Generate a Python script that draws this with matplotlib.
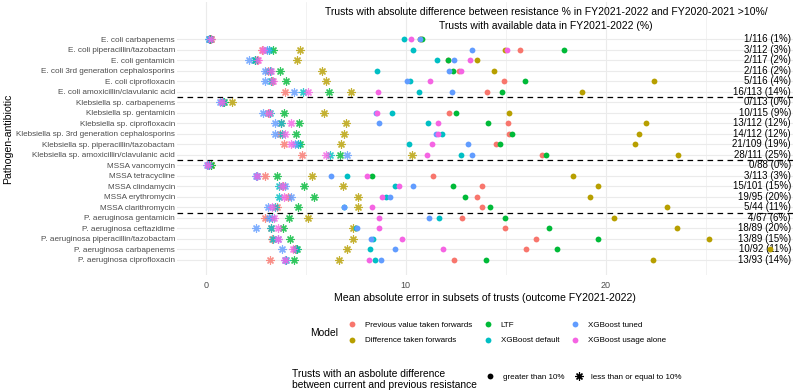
import numpy as np
import matplotlib.pyplot as plt
from matplotlib.lines import Line2D

plt.rcParams['font.family'] = ['Liberation Sans', 'DejaVu Sans']

# pathogen-antibiotic rows, top to bottom
rows = ['E. coli carbapenems', 'E. coli piperacillin/tazobactam', 'E. coli gentamicin',
        'E. coli 3rd generation cephalosporins', 'E. coli ciprofloxacin',
        'E. coli amoxicillin/clavulanic acid',
        'Klebsiella sp. carbapenems', 'Klebsiella sp. gentamicin', 'Klebsiella sp. ciprofloxacin',
        'Klebsiella sp. 3rd generation cephalosporins', 'Klebsiella sp. piperacillin/tazobactam',
        'Klebsiella sp. amoxicillin/clavulanic acid',
        'MSSA vancomycin', 'MSSA tetracycline', 'MSSA clindamycin', 'MSSA erythromycin',
        'MSSA clarithromycin',
        'P. aeruginosa gentamicin', 'P. aeruginosa ceftazidime',
        'P. aeruginosa piperacillin/tazobactam', 'P. aeruginosa carbapenems',
        'P. aeruginosa ciprofloxacin']

counts = ['1/116 (1%)', '3/112 (3%)', '2/117 (2%)', '2/116 (2%)', '5/116 (4%)', '16/113 (14%)',
          '0/113 (0%)', '10/115 (9%)', '13/112 (12%)', '14/112 (12%)', '21/109 (19%)', '28/111 (25%)',
          '0/88 (0%)', '3/113 (3%)', '15/101 (15%)', '19/95 (20%)', '5/44 (11%)',
          '4/67 (6%)', '18/89 (20%)', '13/89 (15%)', '10/92 (11%)', '13/93 (14%)']

models = ['Previous value taken forwards', 'Difference taken forwards', 'LTF',
          'XGBoost default', 'XGBoost tuned', 'XGBoost usage alone']
colors = ['#F8766D', '#B79F00', '#00BA38', '#00BFC4', '#619CFF', '#F564E3']

nan = np.nan
# MAE in trusts with absolute difference > 10%
prev_gt = [10.75, 15.72, 12.1, 12.67, 14.93, 14.05, nan, 12.17, 15.1, 15.17, 14.5, 16.83,
           nan, 11.38, 13.8, 13.58, 13.8, 12.8, 14.97, 16.52, 16.02, 12.43]
diff_gt = [10.7, 14.97, 13.55, 14.43, 22.42, 18.83, nan, 15.18, 21.98, 21.65, 21.47, 23.6,
           nan, 18.35, 19.6, 19.18, 23.07, 20.4, 23.53, 25.13, 28.2, 22.35]
ltf_gt = [10.8, 17.9, 12.13, 12.38, 15.95, 14.8, nan, 12.5, 14.13, 15.33, 14.72, 17.02,
          nan, 8.3, 12.35, 12.97, 14.22, 14.97, 17.18, 19.58, 17.58, 14.0]
xgb_def_gt = [9.93, 10.38, 11.55, 8.58, 10.2, 10.68, nan, 9.3, 11.13, 11.83, 10.17, 12.75,
              nan, 7.05, 9.47, 9.0, 6.9, 11.68, 7.5, 8.35, 8.22, 8.47]
xgb_tun_gt = [10.72, 13.33, 12.42, 12.17, 10.08, 12.3, nan, 8.5, 8.67, 11.5, 13.1, 13.33,
              nan, 6.27, 10.38, 9.22, 6.92, 11.18, 7.55, 8.27, 9.47, 8.77]
xgb_use_gt = [10.25, 15.08, 13.2, 12.75, 11.2, 8.63, nan, 8.55, 11.63, 11.6, 11.32, 11.05,
              nan, 8.08, 9.65, 8.8, 8.3, 8.67, 8.68, 9.8, 11.88, 8.18]

# MAE in trusts with absolute difference <= 10%
prev_le = [0.2, 2.8, 2.55, 3.13, 3.3, 3.98, 0.8, 3.1, 3.75, 3.7, 3.93, 4.83,
           0.12, 2.97, 3.87, 4.13, 3.58, 2.97, 3.25, 3.3, 4.45, 3.22]
diff_le = [0.25, 4.72, 4.58, 5.83, 6.0, 7.27, 1.33, 5.93, 7.0, 6.93, 6.77, 10.3,
           0.27, 5.33, 6.88, 7.63, 7.63, 5.13, 7.35, 7.38, 7.05, 6.68]
ltf_le = [0.22, 3.38, 2.47, 3.72, 4.0, 6.17, 0.92, 3.92, 4.67, 4.5, 4.72, 6.72,
          0.25, 3.55, 4.92, 5.42, 4.6, 4.17, 3.88, 4.22, 4.58, 4.42]
xgb_def_le = [0.18, 3.18, 2.47, 3.2, 3.25, 4.88, 0.85, 3.2, 3.78, 3.8, 4.63, 6.22,
              0.15, 2.55, 3.67, 3.68, 3.47, 3.3, 3.27, 3.38, 4.52, 4.0]
xgb_tun_le = [0.15, 3.05, 2.18, 2.97, 2.98, 4.42, 0.72, 2.88, 3.48, 3.48, 4.47, 7.08,
              0.05, 2.52, 3.97, 4.27, 3.1, 3.18, 2.52, 3.63, 3.8, 3.95]
xgb_use_le = [0.25, 2.85, 2.63, 3.25, 3.35, 5.13, 0.8, 3.18, 4.27, 3.97, 4.25, 6.02,
              0.1, 2.55, 3.8, 3.92, 3.3, 3.42, 3.63, 3.6, 4.38, 3.97]

gt_vals = [prev_gt, diff_gt, ltf_gt, xgb_def_gt, xgb_tun_gt, xgb_use_gt]
le_vals = [prev_le, diff_le, ltf_le, xgb_def_le, xgb_tun_le, xgb_use_le]
group_breaks = [5.5, 11.5, 16.5]

title = ('Trusts with absolute difference between resistance % in FY2021-2022 and FY2020-2021 >10%/\n'
         'Trusts with available data in FY2021-2022 (%)')

fig = plt.figure(figsize=(8, 3.92), dpi=100)
ax = fig.add_axes([177 / 800, 1 - 275 / 392, 616 / 800, 273 / 392])

ypos = np.arange(len(rows))
for vals, col in zip(le_vals, colors):
    ax.plot(vals, ypos, linestyle='none', marker=(8, 2, 0), markersize=5.8,
            markeredgewidth=0.85, color=col, alpha=0.8, zorder=3)
for vals, col in zip(gt_vals, colors):
    ax.plot(vals, ypos, linestyle='none', marker='o', markersize=4.2,
            markeredgewidth=0, color=col, zorder=4)

for i, c in enumerate(counts):
    ax.text(29.25, i, c, ha='right', va='center', fontsize=7.0, color='black', zorder=2)

for b in group_breaks:
    ax.axhline(b, color='black', lw=0.9, ls=(0, (4.5, 3.5)), zorder=2)

ax.text(17.0, -1.93, title, ha='center', va='center', fontsize=7.5, linespacing=1.5)

ax.set_xlim(-1.435, 29.35)
ax.set_ylim(22.45, -3.55)
ax.set_yticks(ypos)
ax.set_yticklabels(rows, fontsize=5.9, color='#4D4D4D')
ax.set_xticks([0, 10, 20])
ax.set_xticks([5, 15, 25], minor=True)
ax.set_xticklabels(['0', '10', '20'], fontsize=6.5, color='#4D4D4D')
ax.tick_params(axis='both', which='both', length=0)
ax.tick_params(axis='y', pad=1.5)
ax.tick_params(axis='x', pad=4)
ax.grid(True, which='major', color='#EBEBEB', lw=0.8, zorder=0)
ax.grid(True, which='minor', axis='x', color='#EBEBEB', lw=0.45, zorder=0)
ax.set_axisbelow(True)
for s in ax.spines.values():
    s.set_visible(False)

ax.set_xlabel('Mean absolute error in subsets of trusts (outcome FY2021-2022)', fontsize=7.6, labelpad=2.5)
ax.set_ylabel('Pathogen-antibiotic', fontsize=7.6)
ax.yaxis.set_label_coords((13.5 - 177) / 616, 0.5)

# colour legend
model_handles = [Line2D([], [], linestyle='none', marker='o', markersize=4.2,
                        markeredgewidth=0, color=c) for c in colors]
leg1 = fig.legend(model_handles, models, ncol=3, loc='upper left',
                  bbox_to_anchor=(348 / 800, 1 - 321.5 / 392), frameon=False,
                  fontsize=5.8, handlelength=1.0, handletextpad=1.1, columnspacing=1.45,
                  labelspacing=0.95, borderpad=0, borderaxespad=0)
fig.text(310.5 / 800, 1 - 333 / 392, 'Model', ha='left', va='center', fontsize=7.4)

# shape legend
shape_handles = [Line2D([], [], linestyle='none', marker='o', markersize=4.2,
                        markeredgewidth=0, color='black'),
                 Line2D([], [], linestyle='none', marker=(8, 2, 0), markersize=5.8,
                        markeredgewidth=0.85, color='black')]
leg2 = fig.legend(shape_handles, ['greater than 10%', 'less than or equal to 10%'], ncol=2,
                  loc='upper left', bbox_to_anchor=(486 / 800, 1 - 373 / 392), frameon=False,
                  fontsize=5.8, handlelength=1.0, handletextpad=1.1, columnspacing=1.25,
                  borderpad=0, borderaxespad=0)
fig.text(292 / 800, 1 - 379.5 / 392,
         'Trusts with an asbolute difference\nbetween current and previous resistance',
         ha='left', va='center', fontsize=7.4, linespacing=1.05)

fig.savefig('out.png', dpi=100)
